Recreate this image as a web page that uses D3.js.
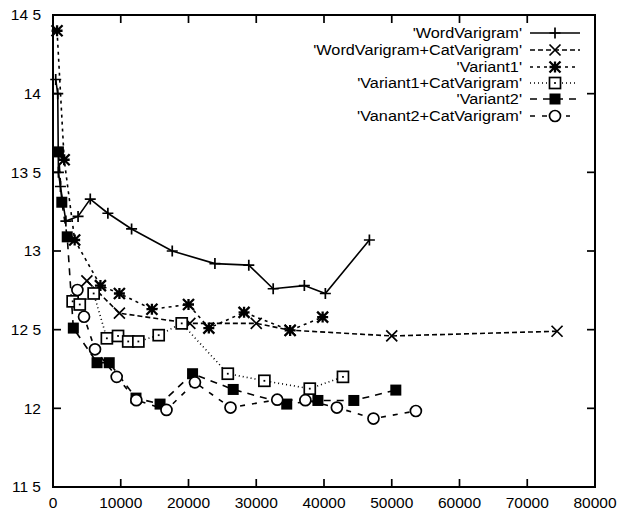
<!DOCTYPE html>
<html><head><meta charset="utf-8">
<script src="https://cdn.jsdelivr.net/npm/d3@7"></script>
<style>body{margin:0;background:#fff}svg{display:block}text{font-family:"Liberation Sans",Arial,sans-serif;fill:#000}</style>
</head><body>
<script>
const seriesNames = ["'WordVarigram'","'WordVarigram+CatVarigram'","'Variant1'","'Variant1+CatVarigram'","'Variant2'","'Vanant2+CatVarigram'"];
const wordX = [400, 700, 800, 1100, 1900, 3700, 5500, 8100, 11600, 17600, 23900, 28900, 32500, 37100, 40200, 46700];
const wordY = [14.09, 14.0, 13.5, 13.41, 13.19, 13.22, 13.33, 13.24, 13.14, 13.0, 12.92, 12.91, 12.76, 12.78, 12.73, 13.07];
const wordCatX = [5000, 9800, 20200, 30000, 35000, 50000, 74400];
const wordCatY = [12.81, 12.605, 12.54, 12.54, 12.497, 12.46, 12.49];
const v1X = [600, 1650, 3200, 7000, 9800, 14600, 20000, 23000, 28200, 35000, 39800];
const v1Y = [14.4, 13.58, 13.07, 12.78, 12.73, 12.63, 12.66, 12.51, 12.61, 12.495, 12.58];
const v1CatX = [2900, 3950, 6000, 7950, 9600, 11100, 12600, 15600, 19000, 25800, 31200, 37900, 42800];
const v1CatY = [12.68, 12.66, 12.73, 12.445, 12.46, 12.425, 12.425, 12.465, 12.54, 12.22, 12.175, 12.125, 12.2];
const v2X = [800, 1300, 2100, 3000, 6500, 8300, 12250, 15800, 20600, 26600, 34500, 39100, 44400, 50600];
const v2Y = [13.63, 13.31, 13.09, 12.51, 12.29, 12.29, 12.065, 12.027, 12.22, 12.12, 12.027, 12.05, 12.05, 12.116];
const v2CatX = [3600, 4580, 6200, 9400, 12300, 16750, 20950, 26200, 33100, 37250, 41900, 47300, 53560];
const v2CatY = [12.752, 12.582, 12.375, 12.2, 12.052, 11.99, 12.165, 12.005, 12.055, 12.052, 12.005, 11.935, 11.983];
const xTicks = [0, 10000, 20000, 30000, 40000, 50000, 60000, 70000, 80000];
const yTicks = [11.5, 12, 12.5, 13, 13.5, 14, 14.5];
const yTickLabels = ["11 5", "12", "12 5", "13", "13 5", "14", "14 5"];

const W = 619, H = 510;
const L = 53, R = 595, T = 15, B = 487;
const x = d3.scaleLinear().domain([0, 80000]).range([L, R]);
const y = d3.scaleLinear().domain([11.5, 14.5]).range([B, T]);

const svg = d3.select("body").append("svg").attr("width", W).attr("height", H);

const series = [
  {xs: wordX, ys: wordY, dash: null, marker: "plus"},
  {xs: wordCatX, ys: wordCatY, dash: "5,3", marker: "cross"},
  {xs: v1X, ys: v1Y, dash: "3,4", marker: "star"},
  {xs: v1CatX, ys: v1CatY, dash: "1,3", marker: "box"},
  {xs: v2X, ys: v2Y, dash: "7,6", marker: "fbox"},
  {xs: v2CatX, ys: v2CatY, dash: "5,7", marker: "circle"}
];

function drawMarker(g, type) {
  const s = 5.5;
  if (type === "plus") {
    g.append("path").attr("d", `M${-s},0H${s}M0,${-s}V${s}`).attr("stroke", "#000").attr("stroke-width", 1.7);
  } else if (type === "cross") {
    g.append("path").attr("d", `M${-s},${-s}L${s},${s}M${-s},${s}L${s},${-s}`).attr("stroke", "#000").attr("stroke-width", 1.7);
  } else if (type === "star") {
    g.append("path").attr("d", `M${-s},0H${s}M0,${-s}V${s}M${-s},${-s}L${s},${s}M${-s},${s}L${s},${-s}`).attr("stroke", "#000").attr("stroke-width", 2.3);
  } else if (type === "box") {
    g.append("rect").attr("x", -5.5).attr("y", -5.5).attr("width", 11).attr("height", 11).attr("fill", "#fff").attr("stroke", "#000").attr("stroke-width", 1.7);
    g.append("rect").attr("x", -0.9).attr("y", -0.9).attr("width", 1.8).attr("height", 1.8).attr("fill", "#000");
  } else if (type === "fbox") {
    g.append("rect").attr("x", -5.5).attr("y", -5.5).attr("width", 11).attr("height", 11).attr("fill", "#000");
  } else if (type === "circle") {
    g.append("circle").attr("r", 5.5).attr("fill", "#fff").attr("stroke", "#000").attr("stroke-width", 1.7);
  }
}

// frame
svg.append("rect").attr("x", L).attr("y", T).attr("width", R - L).attr("height", B - T)
  .attr("fill", "none").attr("stroke", "#000").attr("stroke-width", 2);

// ticks
yTicks.forEach((v, i) => {
  svg.append("line").attr("x1", L).attr("x2", L + 8).attr("y1", y(v)).attr("y2", y(v)).attr("stroke", "#000").attr("stroke-width", 1.7);
  svg.append("line").attr("x1", R).attr("x2", R - 8).attr("y1", y(v)).attr("y2", y(v)).attr("stroke", "#000").attr("stroke-width", 1.7);
  svg.append("text").attr("x", 41).attr("y", y(v)).attr("dy", "0.35em").attr("text-anchor", "end")
    .attr("font-size", 15.5).text(yTickLabels[i]);
});
xTicks.forEach(v => {
  svg.append("line").attr("x1", x(v)).attr("x2", x(v)).attr("y1", B).attr("y2", B - 8).attr("stroke", "#000").attr("stroke-width", 1.7);
  svg.append("line").attr("x1", x(v)).attr("x2", x(v)).attr("y1", T).attr("y2", T + 8).attr("stroke", "#000").attr("stroke-width", 1.7);
  svg.append("text").attr("x", x(v)).attr("y", 508).attr("text-anchor", "middle")
    .attr("font-size", 15.5).text(String(v));
});

// lines
const line = d3.line().x(d => x(d[0])).y(d => y(d[1]));
series.forEach(s => {
  const pts = s.xs.map((v, i) => [v, s.ys[i]]);
  svg.append("path").attr("d", line(pts)).attr("fill", "none").attr("stroke", "#000")
    .attr("stroke-width", 1.6).attr("stroke-dasharray", s.dash);
});
series.forEach(s => {
  s.xs.forEach((v, i) => {
    const g = svg.append("g").attr("transform", `translate(${x(v)},${y(s.ys[i])})`);
    drawMarker(g, s.marker);
  });
});

// legend
const legY = [33, 50, 67, 83, 99, 116];
const sampleEnds = [580, 580, 578, 578, 576, 570];
series.forEach((s, i) => {
  svg.append("g").attr("transform", `translate(522,${legY[i]}) scale(1.16,1)`)
    .append("text").attr("x", 0).attr("y", 0).attr("dy", "0.35em").attr("text-anchor", "end")
    .attr("font-size", 14).text(seriesNames[i]);
  svg.append("line").attr("x1", 530).attr("x2", sampleEnds[i]).attr("y1", legY[i]).attr("y2", legY[i])
    .attr("stroke", "#000").attr("stroke-width", 1.6).attr("stroke-dasharray", s.dash);
  const g = svg.append("g").attr("transform", `translate(555,${legY[i]})`);
  drawMarker(g, s.marker);
});
</script>
</body></html>
